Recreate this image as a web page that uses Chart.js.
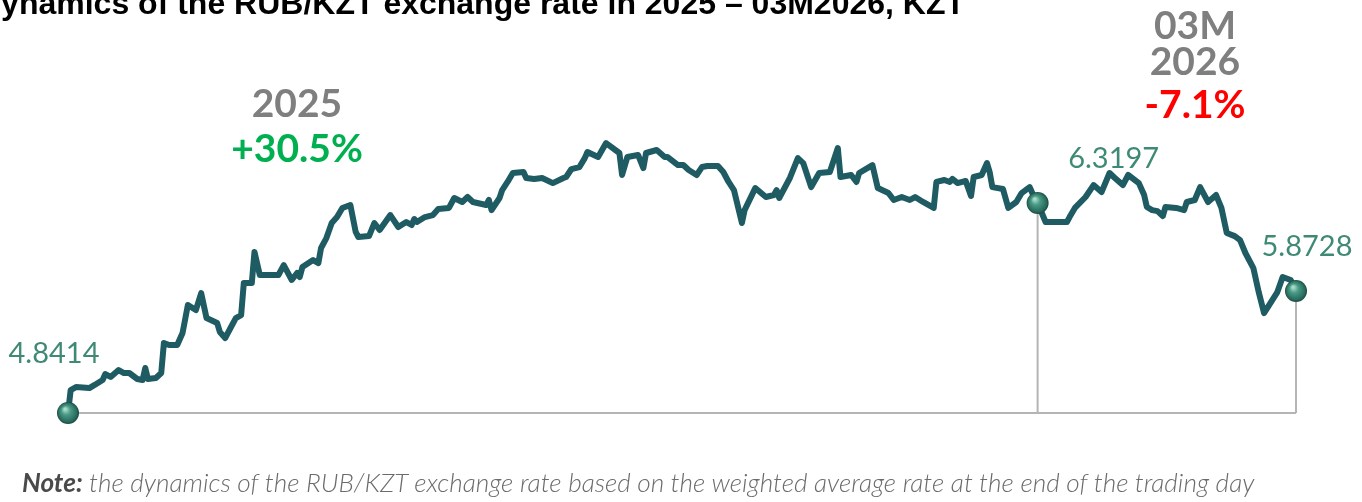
<!DOCTYPE html>
<html>
<head>
<meta charset="utf-8">
<script src="https://cdn.jsdelivr.net/npm/chart.js@4.4.1/dist/chart.umd.min.js"></script>
<style>
  html, body { margin: 0; padding: 0; background: #ffffff; }
  #wrap { position: relative; width: 1362px; height: 502px; overflow: hidden; background: #fff; }
  #c { position: absolute; left: 0; top: 0; }
  .t { position: absolute; white-space: nowrap; line-height: 1; }
  #title { left: -22px; top: -13px; font-family: "Liberation Sans", Arial, sans-serif; font-weight: bold; font-size: 32px; color: #000; }
  .ann { font-family: Lato, sans-serif; font-weight: 700; font-size: 39px; text-align: center; width: 200px; }
  .grey { color: #7f7f7f; }
  #note { left: 22px; top: 469px; font-family: Lato, sans-serif; font-style: italic; font-weight: 300; font-size: 26.2px; color: #6b6b6b; }
  #note b { font-weight: 700; color: #4a4a4a; }
</style>
</head>
<body>
<div id="wrap">
  <canvas id="c" width="1362" height="502"></canvas>
  <div class="t" id="title">Dynamics of the RUB/KZT exchange rate in 2025 – 03M2026, KZT</div>
  <div class="t ann grey" style="left:197px; top:83px;">2025</div>
  <div class="t ann" style="left:197px; top:128px; color:#00b050;">+30.5%</div>
  <div class="t ann grey" style="left:1095px; top:5px;">03M</div>
  <div class="t ann grey" style="left:1095px; top:41px;">2026</div>
  <div class="t ann" style="left:1095px; top:84px; color:#ff0000;">-7.1%</div>
  <div class="t" id="note"><b>Note:</b> the dynamics of the RUB/KZT exchange rate based on the weighted average rate at the end of the trading day</div>
</div>
<script>
// Trading-day position (approximate day index)
const days = [0,1,3,8,10,13,14,16,19,21,23,26,28,29,30,33,35,36,38,41,43,45,48,50,52,56,57,59,61,63,65,66,69,70,72,79,81,84,86,87,88,92,94,95,97,99,101,103,106,108,109,113,115,117,121,124,127,129,130,131,134,137,139,143,145,148,150,152,157,158,159,162,163,165,167,171,172,175,178,182,186,187,189,192,194,195,199,202,207,208,210,214,216,217,221,224,225,229,231,233,236,238,240,244,246,248,250,253,254,258,262,265,266,267,271,274,276,279,282,286,289,290,294,296,297,302,304,308,310,313,316,318,321,325,326,329,331,332,334,337,339,340,343,345,346,347,351,353,356,358,361,362,364,367,375,376,378,382,385,388,391,393,396,398,402,404,405,407,409,411,412,416,419,420,423,425,428,431,433,435,438,440,442,445,447,449,454,456,459,461];
// RUB/KZT rate (as drawn in the picture)
const rates = [4.8414,5.003,5.024,5.017,5.039,5.074,5.116,5.095,5.144,5.123,5.123,5.081,5.074,5.158,5.081,5.088,5.123,5.334,5.320,5.320,5.405,5.602,5.566,5.686,5.510,5.475,5.412,5.369,5.440,5.510,5.531,5.757,5.757,5.975,5.813,5.813,5.883,5.778,5.827,5.799,5.869,5.918,5.897,6.003,6.073,6.179,6.221,6.285,6.306,6.116,6.080,6.087,6.179,6.130,6.235,6.151,6.186,6.165,6.207,6.186,6.221,6.235,6.277,6.285,6.355,6.327,6.362,6.327,6.306,6.341,6.270,6.355,6.411,6.468,6.531,6.538,6.496,6.489,6.496,6.460,6.496,6.503,6.559,6.573,6.636,6.679,6.644,6.742,6.672,6.517,6.644,6.658,6.566,6.672,6.693,6.644,6.644,6.587,6.587,6.552,6.517,6.573,6.580,6.580,6.538,6.468,6.411,6.179,6.270,6.425,6.362,6.376,6.411,6.355,6.496,6.636,6.601,6.432,6.531,6.538,6.707,6.503,6.517,6.468,6.531,6.587,6.425,6.390,6.341,6.362,6.341,6.362,6.327,6.285,6.468,6.482,6.468,6.489,6.460,6.475,6.369,6.503,6.517,6.601,6.538,6.432,6.418,6.285,6.327,6.390,6.432,6.390,6.3197,6.186,6.186,6.221,6.285,6.362,6.446,6.397,6.531,6.496,6.446,6.517,6.460,6.376,6.292,6.270,6.263,6.228,6.292,6.285,6.270,6.327,6.341,6.432,6.327,6.376,6.285,6.109,6.087,6.059,5.968,5.862,5.693,5.545,5.693,5.799,5.778,5.700];
// Highlighted points and their labels
const markIdx = [0, 152, 189];
const markText = ['4.8414', '6.3197', '5.8728'];
const markOffset = [[-14, -50], [76, -35], [11, -35]];

const points = days.map((d, i) => ({ x: d, y: rates[i] }));

const decor = {
  id: 'decor',
  beforeDatasetsDraw(chart) {
    const ctx = chart.ctx;
    const xs = chart.scales.x, ys = chart.scales.y;
    const x0 = xs.getPixelForValue(days[0]);
    const yb = ys.getPixelForValue(rates[0]);
    const xl = xs.getPixelForValue(days[days.length - 1]);
    ctx.save();
    ctx.strokeStyle = '#b5b5b5';
    ctx.lineWidth = 2;
    ctx.beginPath();
    ctx.moveTo(x0, yb); ctx.lineTo(xl, yb);
    for (const i of markIdx.slice(1)) {
      const px = xs.getPixelForValue(days[i]);
      ctx.moveTo(px, ys.getPixelForValue(rates[i]));
      ctx.lineTo(px, yb);
    }
    ctx.stroke();
    ctx.restore();
  },
  afterDatasetsDraw(chart) {
    const ctx = chart.ctx;
    const xs = chart.scales.x, ys = chart.scales.y;
    ctx.save();
    markIdx.forEach((i, k) => {
      const cx = xs.getPixelForValue(days[i]);
      const cy = ys.getPixelForValue(rates[i]);
      const r = 11;
      const g = ctx.createRadialGradient(cx - 3, cy - 4, 1, cx, cy, r);
      g.addColorStop(0, '#a6dccb');
      g.addColorStop(0.35, '#4a9a86');
      g.addColorStop(0.85, '#27695b');
      g.addColorStop(1, '#1b463d');
      ctx.beginPath();
      ctx.arc(cx, cy, r, 0, Math.PI * 2);
      ctx.fillStyle = g;
      ctx.fill();
      ctx.font = '400 29px Lato, sans-serif';
      ctx.fillStyle = '#3f8a74';
      ctx.textAlign = 'center';
      ctx.textBaseline = 'alphabetic';
      ctx.fillText(markText[k], cx + markOffset[k][0], cy + markOffset[k][1]);
    });
    ctx.restore();
  }
};

new Chart(document.getElementById('c'), {
  type: 'line',
  data: {
    datasets: [{
      data: points,
      borderColor: '#1f5b62',
      borderWidth: 6,
      borderJoinStyle: 'round',
      borderCapStyle: 'round',
      pointRadius: 0,
      tension: 0,
      clip: false
    }]
  },
  options: {
    responsive: false,
    animation: false,
    layout: { padding: { left: 68, right: 66, top: 120.6, bottom: 68.9 } },
    plugins: { legend: { display: false }, tooltip: { enabled: false }, title: { display: false } },
    scales: {
      x: { type: 'linear', min: 0, max: 461, display: false },
      y: { type: 'linear', min: 4.70, max: 6.90, display: false }
    }
  },
  plugins: [decor]
});
</script>
</body>
</html>
